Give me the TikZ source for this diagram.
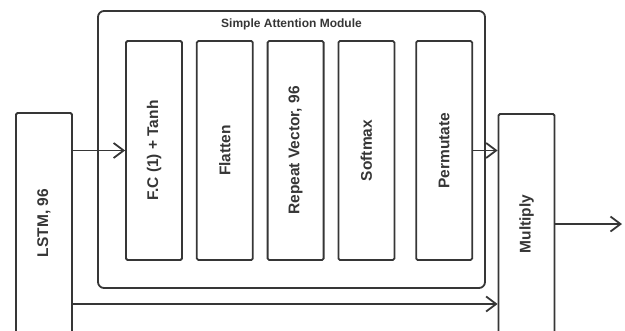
\documentclass[tikz,border=0pt]{standalone}
\usepackage{fontspec}
\setmainfont{Liberation Sans}
\usepackage{graphicx}
\usetikzlibrary{positioning,arrows.meta}
\definecolor{ink}{HTML}{363636}
\tikzstyle{layer} = [draw=ink, line width=1.8pt, rectangle, rounded corners=1.5pt, minimum width=56pt, minimum height=219pt, inner sep=0pt, text=ink, font=\fontsize{15.5}{18}\selectfont\bfseries]
\tikzstyle{block} = [layer, minimum height=220pt]
\tikzstyle{group} = [draw=ink, line width=1.8pt, rectangle, rounded corners=6pt, minimum width=387pt, minimum height=277pt]
\tikzstyle{title} = [text=ink, inner sep=0pt, font=\fontsize{12}{14}\selectfont\bfseries]
\tikzstyle{line} = [draw=ink, line width=1.8pt, -{Straight Barb[length=10pt,width=15pt]}]

\begin{document}
\begin{tikzpicture}[x=1pt, y=-1pt, node distance=13pt]
    \clip (0,0) rectangle (625,330);

    % Place nodes
    \node [group] (module) at (291.5,149.5) {};
    \node [title] (title) at ([yshift=-14pt]module.north) {Simple Attention Module};
    \node [layer] (fc) at (154,150.5) {\rotatebox{90}{F.C (1) + Tanh}};
    \node [layer, right=of fc] (flatten) {\rotatebox{90}{Flatten}};
    \node [layer, right=of flatten] (repeat) {\rotatebox{90}{Repeat Vector, 96}};
    \node [layer, right=of repeat] (softmax) {\rotatebox{90}{Softmax}};
    \node [layer, right=20pt of softmax] (permute) {\rotatebox{90}{Permutate}};
    \node [block] (lstm) at (44,223) {\rotatebox{90}{LSTM, 96}};
    \node [block] (multiply) at (526.5,224) {\rotatebox{90}{Multiply}};
    \coordinate (skip) at (44,304);
    \coordinate (out) at (622,224);

    % Draw edges
    \path [line] (lstm.east |- fc.west) -- (fc.west);
    \path [line] (permute.east) -- (multiply.west |- permute.east);
    \path [line] (lstm.east |- skip) -- (multiply.west |- skip);
    \path [line] (multiply.east) -- (out);
\end{tikzpicture}
\end{document}
